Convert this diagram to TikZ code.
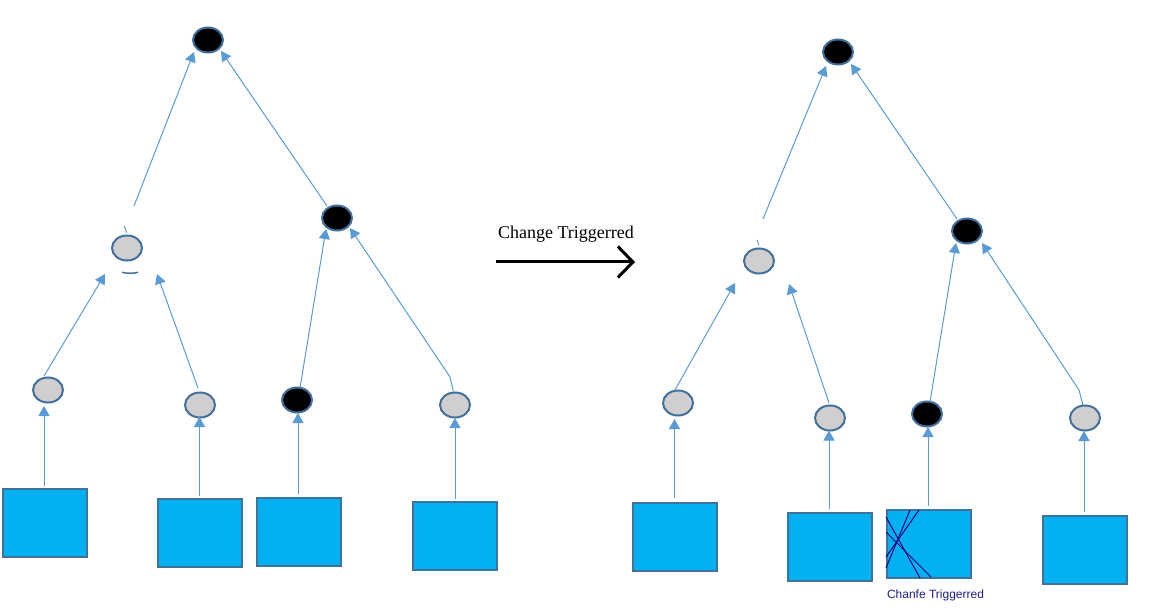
\documentclass[tikz,border=0pt]{standalone}
\usepackage{fontspec}
\setmainfont{Liberation Serif}
\newfontfamily\arialfont{Liberation Sans}
\usetikzlibrary{arrows.meta,shapes.geometric}
\definecolor{edgeblue}{HTML}{5B9BD5}
\definecolor{borderblue}{HTML}{41719C}
\definecolor{nodegray}{HTML}{D0CECE}
\definecolor{boxblue}{HTML}{00B0F0}
\definecolor{crossnavy}{HTML}{000080}
\definecolor{labelnavy}{HTML}{1F1F8C}
\begin{document}
\begin{tikzpicture}[x=1pt,y=-1pt,
  graynode/.style={ellipse, draw=borderblue, fill=nodegray, line width=2pt,
    minimum width=30pt, minimum height=25pt, inner sep=0pt, outer sep=0pt},
  blacknode/.style={graynode, fill=black},
  leafbox/.style={rectangle, draw=borderblue, fill=boxblue, line width=2pt,
    minimum width=84pt, minimum height=68pt, inner sep=0pt, outer sep=0pt},
  edgearrow/.style={draw=edgeblue, line width=1pt, -{Triangle[length=10pt,width=11pt]}},
  edgeline/.style={draw=edgeblue, line width=1pt},
  bigarrow/.style={draw=black, line width=3pt, -{Straight Barb[length=15pt,width=31pt]}},
  crossline/.style={draw=crossnavy, line width=1pt}
]
\useasboundingbox (0,0) rectangle (1172,612);
\fill[white] (0,0) rectangle (1172,612);

% ---------- left tree ----------
\node[blacknode] (rootL) at (208,40) {};
\node[graynode]  (midL)  at (127,248) {};
\node[blacknode] (midRt) at (337,218) {};
\node[graynode]  (leafL1) at (48,390) {};
\node[graynode]  (leafL2) at (200,405) {};
\node[blacknode] (leafL3) at (297,400) {};
\node[graynode]  (leafL4) at (455,405) {};
\node[leafbox] (boxL1) at (45,523) {};
\node[leafbox] (boxL2) at (200,533) {};
\node[leafbox] (boxL3) at (299,531.5) {};
\node[leafbox] (boxL4) at (455,536) {};

\draw[edgearrow] ([xshift=-1pt,yshift=3pt]boxL1.north) -- ([xshift=-4pt,yshift=-3.5pt]leafL1.south);
\draw[edgearrow] ([xshift=-0.5pt,yshift=3pt]boxL2.north) -- ([xshift=-0.5pt,yshift=0.5pt]leafL2.south);
\draw[edgearrow] ([xshift=-1pt,yshift=3.5pt]boxL3.north) -- ([xshift=1pt,yshift=-0.5pt]leafL3.south);
\draw[edgearrow] ([yshift=3pt]boxL4.north) -- ([yshift=-0.5pt]leafL4.south);

\draw[edgearrow] ([xshift=-4pt,yshift=14pt]leafL1.center) -- ([xshift=-22pt,yshift=-26pt]midL.center);
\draw[edgearrow] ([xshift=-2pt,yshift=17pt]leafL2.center) -- ([xshift=30pt,yshift=-26pt]midL.center);
\draw[edgearrow] ([xshift=7pt,yshift=42pt]midL.center) -- ([xshift=-14pt,yshift=-12pt]rootL.center);
\draw[edgeline] ([xshift=-2.7pt,yshift=22pt]midL.center) -- ([xshift=-0.3pt,yshift=15.3pt]midL.center);
\draw[edgearrow] ([xshift=3pt,yshift=12pt]leafL3.center) -- ([xshift=-11pt,yshift=-11pt]midRt.center);
\draw[edgearrow] ([xshift=-1.7pt,yshift=14pt]leafL4.center) -- ([xshift=-5pt,yshift=28pt]leafL4.center) -- ([xshift=13pt,yshift=-10pt]midRt.center);
\draw[edgearrow] ([xshift=-10pt,yshift=12pt]midRt.center) -- ([xshift=13pt,yshift=-11pt]rootL.center);
\draw[borderblue, line width=1.5pt] (122,272.3) .. controls (127,273.6) and (133,273.6) .. (138,272.3);

% ---------- change arrow ----------
\coordinate (arrS) at (496,262);
\coordinate (arrE) at (635,262);
\draw[bigarrow] (arrS) -- (arrE);
\node[anchor=base, inner sep=0pt, font=\fontsize{18}{20}\selectfont] (lblChange) at (566,239) {Change Triggerred};

% ---------- right tree ----------
\node[blacknode] (rootR) at (838,52) {};
\node[graynode]  (midRL) at (759,261) {};
\node[blacknode] (midRR) at (967,231) {};
\node[graynode]  (leafR1) at (678,403) {};
\node[graynode]  (leafR2) at (830,418) {};
\node[blacknode] (leafR3) at (927,414) {};
\node[graynode]  (leafR4) at (1085,418) {};
\node[leafbox] (boxR1) at (675,536.5) {};
\node[leafbox] (boxR2) at (830,546.5) {};
\node[leafbox] (boxR3) at (928.5,544) {};
\node[leafbox] (boxR4) at (1085,549.5) {};

% crossing marks on the changed box
\draw[crossline] (910,510) -- (886,568);
\draw[crossline] (919,510) -- (886,557);
\draw[crossline] (886,517) -- (920,578);
\draw[crossline] (886,532) -- (931,577);

\draw[edgearrow] ([xshift=-0.5pt,yshift=4.5pt]boxR1.north) -- ([xshift=-3.5pt,yshift=-3.5pt]leafR1.south);
\draw[edgearrow] ([xshift=-1pt,yshift=4pt]boxR2.north) -- ([xshift=-1pt]leafR2.south);
\draw[edgearrow] ([xshift=-0.5pt,yshift=4pt]boxR3.north) -- ([xshift=1pt,yshift=-0.5pt]leafR3.south);
\draw[edgearrow] ([xshift=-1pt,yshift=4pt]boxR4.north) -- ([xshift=-1pt,yshift=-0.5pt]leafR4.south);

\draw[edgearrow] ([xshift=-3pt,yshift=13pt]leafR1.center) -- ([xshift=-24pt,yshift=-22pt]midRL.center);
\draw[edgearrow] ([xshift=-1pt,yshift=15pt]leafR2.center) -- ([xshift=30pt,yshift=-23pt]midRL.center);
\draw[edgearrow] ([xshift=4pt,yshift=42pt]midRL.center) -- ([xshift=-12pt,yshift=-14pt]rootR.center);
\draw[edgeline] ([xshift=-2pt,yshift=21pt]midRL.center) -- ([xshift=0pt,yshift=16pt]midRL.center);
\draw[edgearrow] ([xshift=3pt,yshift=12pt]leafR3.center) -- ([xshift=-11pt,yshift=-12pt]midRR.center);
\draw[edgearrow] ([xshift=-2pt,yshift=13pt]leafR4.center) -- ([xshift=-6pt,yshift=28pt]leafR4.center) -- ([xshift=15pt,yshift=-12pt]midRR.center);
\draw[edgearrow] ([xshift=-10pt,yshift=12pt]midRR.center) -- ([xshift=13pt,yshift=-12pt]rootR.center);

\node[anchor=base, inner sep=0pt, text=labelnavy, font=\arialfont\fontsize{12}{14}\selectfont] (lblChanfe) at (935.5,598.5) {Chanfe Triggerred};
\end{tikzpicture}
\end{document}
